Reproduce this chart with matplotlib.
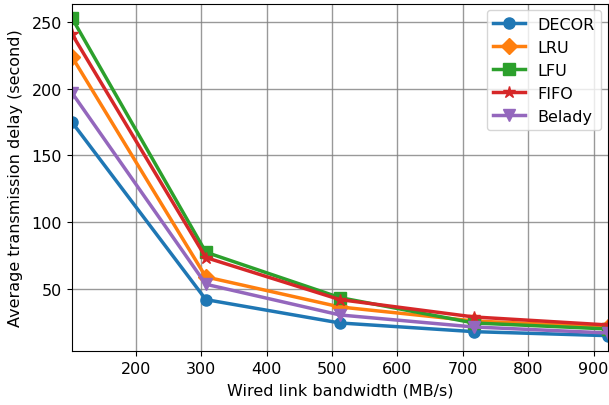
import matplotlib
matplotlib.use('Agg')
import matplotlib.pyplot as plt

bandwidth = [102.4, 307.2, 512, 716.8, 921.6]

decor = [175, 42, 24.5, 18, 15]
lru = [224, 59, 36.5, 26, 21.5]
lfu = [253, 77.5, 43.5, 24.5, 20]
fifo = [241, 73.5, 42, 29, 23]
belady = [197, 53.5, 30.5, 21.5, 17]

plt.rcParams['font.size'] = 11.5

fig = plt.figure(figsize=(6.09, 4.06), dpi=100)
ax = fig.add_axes([0.118, 0.133, 0.880, 0.855])

ax.plot(bandwidth, decor, marker='o', ms=8, lw=2.5, c='tab:blue', label='DECOR')
ax.plot(bandwidth, lru, marker='D', ms=8, lw=2.5, c='tab:orange', label='LRU')
ax.plot(bandwidth, lfu, marker='s', ms=8, lw=2.5, c='tab:green', label='LFU')
ax.plot(bandwidth, fifo, marker='*', ms=9, lw=2.5, c='tab:red', label='FIFO')
ax.plot(bandwidth, belady, marker='v', ms=9, lw=2.5, c='tab:purple', label='Belady')

ax.set_xlim(102.4, 921.6)
ax.set_ylim(3.5, 263.5)
ax.set_xticks([200, 300, 400, 500, 600, 700, 800, 900])
ax.set_yticks([50, 100, 150, 200, 250])
ax.grid(True, color='gray', lw=1, alpha=0.8)
ax.set_xlabel('Wired link bandwidth (MB/s)', labelpad=5)
ax.set_ylabel('Average transmission delay (second)', labelpad=6)
ax.legend(loc='upper right', borderaxespad=0.4)

fig.savefig('out.png', dpi=100)
